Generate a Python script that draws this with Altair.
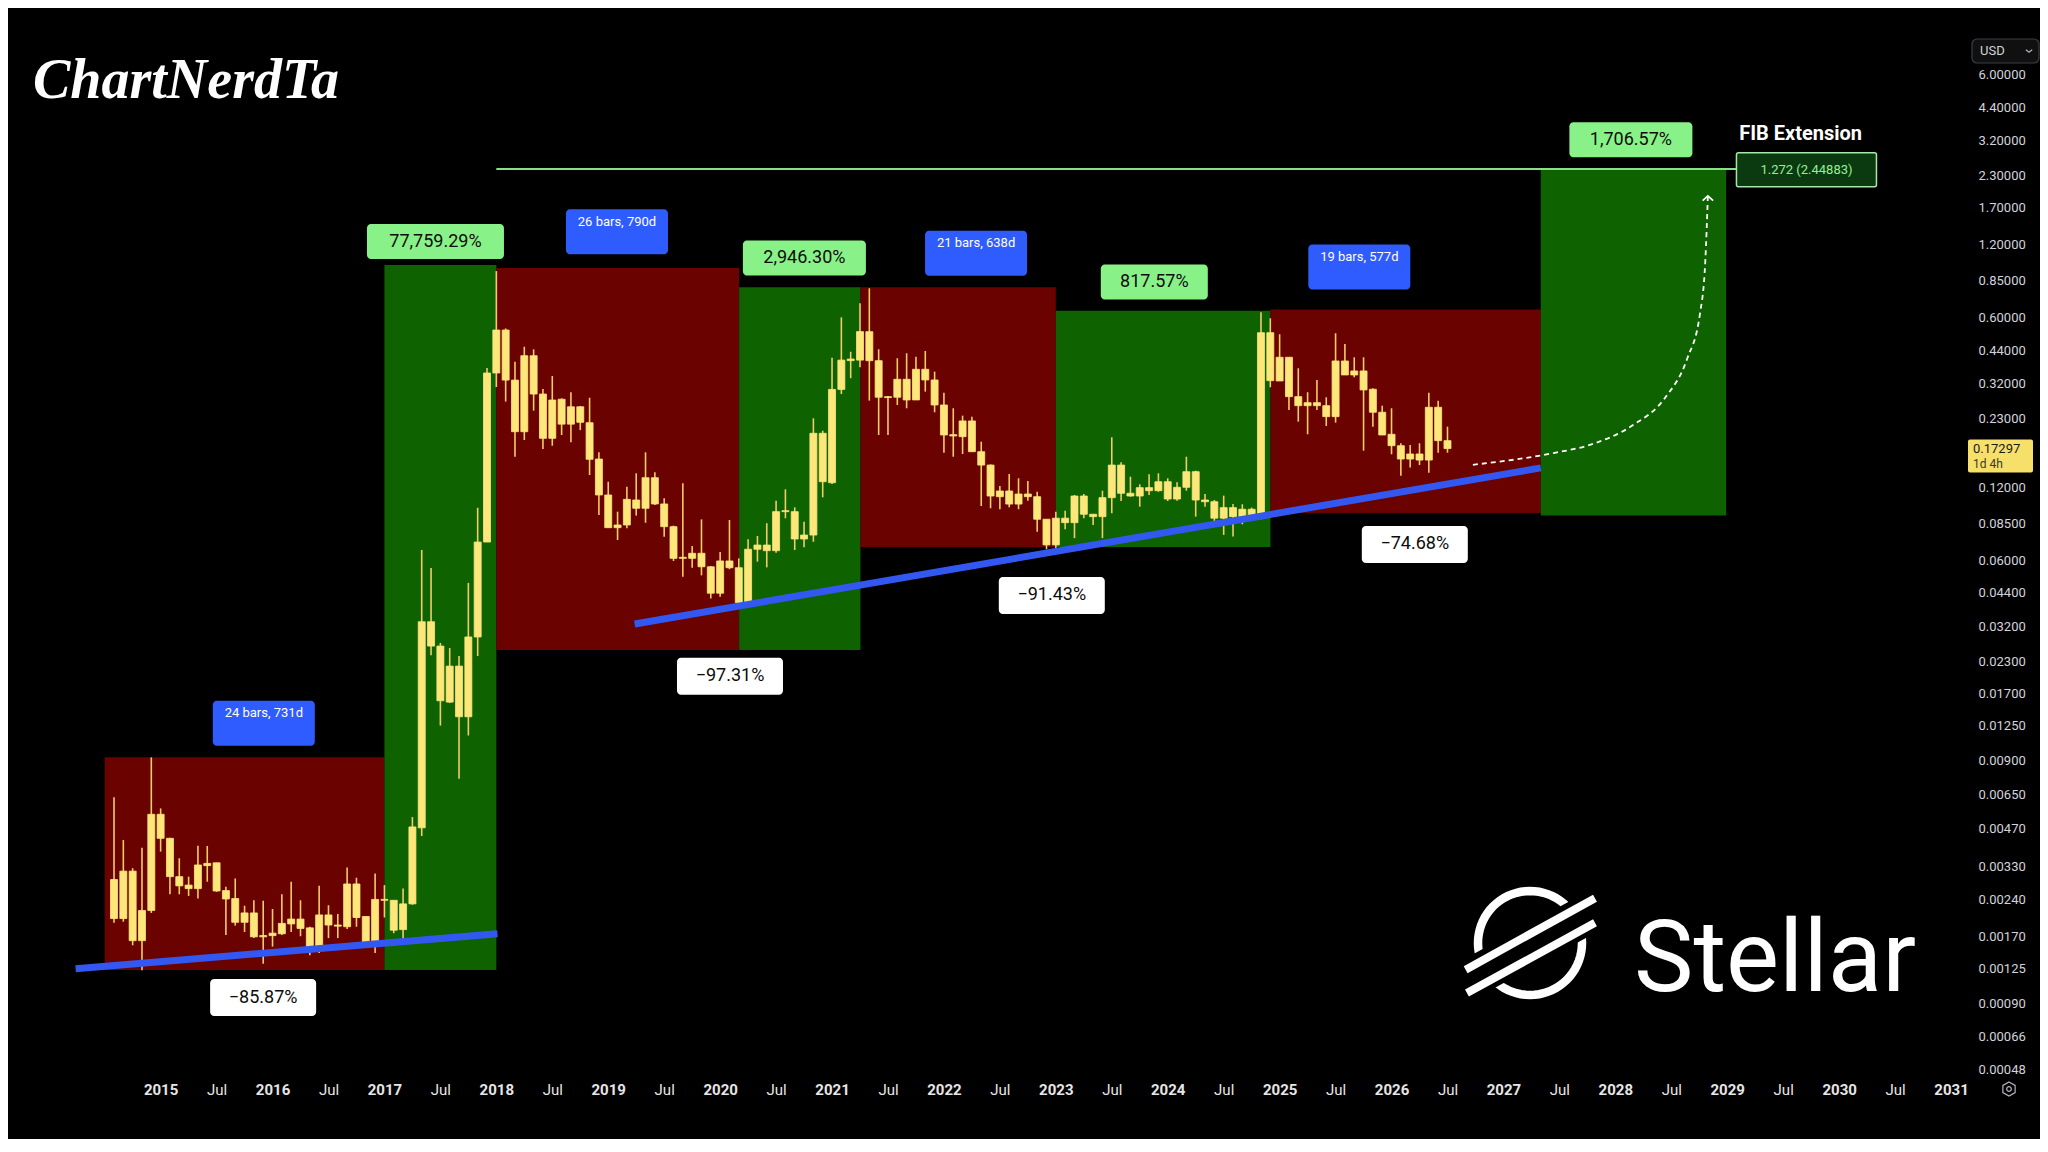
import math
import altair as alt
import pandas as pd

# ---------------- monthly candles, Aug 2014 .. Jul 2026 ----------------
FIRST_YEAR, FIRST_MONTH = 2014, 8
OPEN = [
    0.00291, 0.00201, 0.00315, 0.00163, 0.00217,
    0.00540, 0.00430, 0.00299, 0.00276, 0.00267, 0.00332, 0.00341, 0.00262, 0.00243, 0.00194, 0.00212, 0.00171,
    0.00171, 0.00174, 0.00191, 0.00200, 0.00184, 0.00151, 0.00208, 0.00189, 0.00186, 0.00279, 0.00205, 0.00161,
    0.00241, 0.00239, 0.00181, 0.00231, 0.00475, 0.0335, 0.0266, 0.01564, 0.0220, 0.01361, 0.0290, 0.0713,
    0.354, 0.532, 0.331, 0.2029, 0.417, 0.290, 0.1906, 0.276, 0.218, 0.257, 0.221, 0.1566,
    0.1114, 0.0817, 0.0838, 0.1062, 0.0982, 0.1312, 0.1023, 0.0825, 0.0611, 0.0611, 0.0641, 0.0564,
    0.0439, 0.0596, 0.0559, 0.0401, 0.0666, 0.0693, 0.0657, 0.0951, 0.0951, 0.0734, 0.0762, 0.1999,
    0.1251, 0.303, 0.404, 0.400, 0.5237, 0.3978, 0.2803, 0.2813, 0.3335, 0.2742, 0.3667, 0.3314,
    0.2614, 0.1973, 0.1936, 0.2247, 0.1679, 0.1479, 0.1096, 0.1157, 0.1022, 0.1124, 0.1096, 0.0885,
    0.0694, 0.0894, 0.0857, 0.1103, 0.0928, 0.0907, 0.1086, 0.1479, 0.1132, 0.1103, 0.1194, 0.1160,
    0.1263, 0.1072, 0.1198, 0.1389, 0.1062, 0.1045, 0.0894, 0.0988, 0.0907, 0.0973, 0.0907, 0.5187,
    0.3282, 0.4109, 0.2829, 0.2597, 0.2672, 0.2597, 0.2341, 0.3967, 0.3474, 0.3609, 0.3035, 0.2440,
    0.1980, 0.1777, 0.1566, 0.1643, 0.1551, 0.2558, 0.1864,
]
HIGH = [
    0.00634, 0.00423, 0.00324, 0.00393, 0.00926,
    0.00571, 0.00432, 0.00356, 0.00299, 0.00401, 0.00400, 0.00341, 0.00272, 0.00294, 0.00227, 0.00239, 0.00238,
    0.00220, 0.00253, 0.00285, 0.00239, 0.00186, 0.00274, 0.00228, 0.00210, 0.00326, 0.00296, 0.00205, 0.00308,
    0.00276, 0.00239, 0.00267, 0.00526, 0.0661, 0.0557, 0.0274, 0.0261, 0.0242, 0.0484, 0.0987, 0.371,
    0.93, 0.54, 0.394, 0.454, 0.443, 0.304, 0.344, 0.2785, 0.295, 0.259, 0.280, 0.1669,
    0.1263, 0.0951, 0.1205, 0.1368, 0.1669, 0.1381, 0.1080, 0.0833, 0.1244, 0.0687, 0.0884, 0.0568,
    0.0649, 0.0879, 0.0611, 0.0732, 0.0755, 0.0852, 0.1055, 0.1175, 0.0991, 0.0865, 0.2304, 0.2048,
    0.409, 0.600, 0.433, 0.685, 0.790, 0.4433, 0.2848, 0.4071, 0.4268, 0.4133, 0.4362, 0.3585,
    0.2939, 0.2534, 0.2363, 0.2341, 0.1846, 0.1489, 0.1213, 0.1359, 0.1305, 0.1272, 0.1149, 0.0885,
    0.0951, 0.0960, 0.1114, 0.1124, 0.0928, 0.1160, 0.1925, 0.1518, 0.1325, 0.1233, 0.1355, 0.1368,
    0.1305, 0.1256, 0.1601, 0.1402, 0.1124, 0.1062, 0.1107, 0.1022, 0.1020, 0.0988, 0.6295, 0.5946,
    0.5110, 0.4109, 0.3702, 0.2950, 0.3314, 0.2813, 0.5159, 0.4661, 0.4109, 0.4109, 0.3063, 0.2597,
    0.2534, 0.1818, 0.1789, 0.1818, 0.2939, 0.2724, 0.2129,
]
LOW = [
    0.00193, 0.00195, 0.00156, 0.00123, 0.00212,
    0.00379, 0.00253, 0.00253, 0.00249, 0.00243, 0.00285, 0.00259, 0.00172, 0.00188, 0.00177, 0.00167, 0.00131,
    0.00154, 0.00172, 0.00177, 0.00170, 0.00142, 0.00145, 0.00167, 0.00167, 0.00182, 0.00186, 0.00159, 0.00145,
    0.00203, 0.00175, 0.00161, 0.00229, 0.00440, 0.0244, 0.01252, 0.0155, 0.00756, 0.0114, 0.0242, 0.0713,
    0.310, 0.270, 0.1601, 0.1876, 0.2476, 0.1722, 0.1777, 0.1967, 0.1835, 0.206, 0.1346, 0.0922,
    0.0817, 0.0727, 0.0812, 0.0916, 0.0856, 0.1013, 0.0750, 0.0596, 0.0513, 0.0559, 0.0520, 0.0418,
    0.0425, 0.0551, 0.0393, 0.0389, 0.0592, 0.0561, 0.0644, 0.0893, 0.0661, 0.0678, 0.0715, 0.1090,
    0.1236, 0.290, 0.337, 0.374, 0.2724, 0.1967, 0.1967, 0.2614, 0.2534, 0.2742, 0.2967, 0.2440,
    0.1663, 0.1601, 0.1643, 0.1679, 0.1003, 0.0982, 0.0973, 0.0991, 0.0973, 0.1055, 0.0787, 0.0666,
    0.0666, 0.0805, 0.0740, 0.0894, 0.0839, 0.0740, 0.0937, 0.1052, 0.1096, 0.0997, 0.1114, 0.1149,
    0.1052, 0.1055, 0.1160, 0.0907, 0.0997, 0.0847, 0.0763, 0.0751, 0.0844, 0.0874, 0.0885, 0.3092,
    0.3282, 0.2494, 0.2232, 0.1980, 0.2494, 0.2143, 0.2211, 0.3474, 0.3399, 0.1695, 0.2129, 0.1967,
    0.1638, 0.1338, 0.1447, 0.1479, 0.1376, 0.1663, 0.1663,
]
CLOSE = [
    0.00201, 0.00315, 0.00163, 0.00217, 0.00540,
    0.00430, 0.00299, 0.00274, 0.00267, 0.00334, 0.00339, 0.00261, 0.00242, 0.00194, 0.00212, 0.00169, 0.00169,
    0.00175, 0.00192, 0.00200, 0.00183, 0.00151, 0.00208, 0.00189, 0.00187, 0.00279, 0.00203, 0.00160, 0.00241,
    0.00239, 0.00180, 0.00231, 0.00479, 0.0335, 0.0266, 0.01584, 0.0220, 0.01361, 0.0290, 0.0713, 0.354,
    0.532, 0.331, 0.2029, 0.417, 0.290, 0.1906, 0.274, 0.218, 0.257, 0.2218, 0.1562, 0.1114,
    0.0817, 0.0838, 0.1069, 0.0982, 0.1312, 0.1023, 0.0825, 0.0611, 0.0617, 0.0641, 0.0564, 0.0439,
    0.0596, 0.0559, 0.0401, 0.0666, 0.0693, 0.0657, 0.0951, 0.0960, 0.0734, 0.0762, 0.1999, 0.1263,
    0.303, 0.400, 0.398, 0.524, 0.3978, 0.2813, 0.2829, 0.3335, 0.2742, 0.3667, 0.3314, 0.2614,
    0.1967, 0.1949, 0.2247, 0.1679, 0.1479, 0.1103, 0.1157, 0.1022, 0.1124, 0.1096, 0.0885, 0.0694,
    0.0894, 0.0857, 0.1103, 0.0928, 0.0907, 0.1086, 0.1479, 0.1132, 0.1103, 0.1194, 0.1160, 0.1263,
    0.1072, 0.1198, 0.1389, 0.1062, 0.1045, 0.0894, 0.0988, 0.0907, 0.0973, 0.0907, 0.5187, 0.3292,
    0.4109, 0.2829, 0.2597, 0.2672, 0.2597, 0.2341, 0.3967, 0.3474, 0.3609, 0.3015, 0.2440, 0.1967,
    0.1777, 0.1566, 0.1643, 0.1551, 0.2558, 0.1864, 0.17297,
]

# ---------------- range boxes (decimal year, price) ----------------
BOX_START = [2014.50, 2017.00, 2018.00, 2020.17, 2021.254, 2023.00, 2024.918, 2027.334]
BOX_END = [2017.00, 2018.00, 2020.17, 2021.254, 2023.00, 2024.918, 2027.334, 2028.99]
BOX_LOW = [0.001234, 0.001234, 0.0256, 0.0256, 0.068, 0.068, 0.0938, 0.0917]
BOX_HIGH = [0.00927, 0.985, 0.958, 0.798, 0.798, 0.639, 0.647, 2.43]
BOX_KIND = ["down", "up", "down", "up", "down", "up", "down", "up"]

# ---------------- trend lines ----------------
TREND_ID = ["a", "a", "b", "b"]
TREND_X = [2014.24, 2018.01, 2019.236, 2027.334]
TREND_Y = [0.00125, 0.00174, 0.0328, 0.144]

# ---------------- projected path (dashed) ----------------
PROJ_X = [2026.727, 2027.100, 2027.450, 2027.800, 2028.151, 2028.442, 2028.641, 2028.757, 2028.804, 2028.827]
PROJ_Y = [0.1483, 0.1558, 0.1658, 0.1808, 0.2150, 0.2789, 0.4041, 0.6229, 1.022, 1.898]

# ---------------- fib extension ----------------
FIB_LEVEL = 2.44883
FIB_START, FIB_END = 2018.0, 2029.08
FIB_TITLE = "FIB Extension"
FIB_LABEL = "1.272 (2.44883)"
FIB_TITLE_POS = (2029.107, 3.395)
FIB_LABEL_POS = (2029.708, 2.431)

# ---------------- labels ----------------
GAIN_TEXT = ["77,759.29%", "2,946.30%", "817.57%", "1,706.57%"]
GAIN_X = [2017.456, 2020.753, 2023.880, 2028.139]
GAIN_Y = [1.231, 1.054, 0.839, 3.232]
GAIN_W = [137, 123, 107, 123]

BARS_TEXT = ["24 bars, 731d", "26 bars, 790d", "21 bars, 638d", "19 bars, 577d"]
BARS_X = [2015.922, 2019.078, 2022.287, 2025.712]
BARS_Y = [0.0128, 1.351, 1.101, 0.967]

DROP_TEXT = ["\u221285.87%", "\u221297.31%", "\u221291.43%", "\u221274.68%"]
DROP_X = [2015.916, 2020.088, 2022.964, 2026.208]
DROP_Y = [0.000951, 0.01997, 0.0430, 0.0697]

LAST_PRICE = 0.17297
LAST_PRICE_TEXT = "0.17297"
COUNTDOWN_TEXT = "1d 4h"

Y_TICKS = [6.0, 4.4, 3.2, 2.3, 1.7, 1.2, 0.85, 0.6, 0.44, 0.32, 0.23, 0.12, 0.085, 0.06, 0.044,
           0.032, 0.023, 0.017, 0.0125, 0.009, 0.0065, 0.0047, 0.0033, 0.0024, 0.0017, 0.00125,
           0.0009, 0.00066, 0.00048]
X_TICKS = [2015 + 0.5 * k for k in range(33)]

# ---------------- styling ----------------
W, H = 1954, 1068
RED, GREEN = "#6a0200", "#0e6300"
BODY, WICK = "#fde77a", "#f2cc66"
BLUE = "#3358f2"
FIB_GREEN = "#86e086"
GAIN_FILL = "#88f288"
BARS_FILL = "#2f5cff"
FONT = "Roboto"

XS = alt.Scale(domain=[2013.636, 2031.098], nice=False, zero=False, padding=0)
YS = alt.Scale(type="log", domain=[0.0004519, 11.26], nice=False, padding=0)

x_axis = alt.Axis(
    values=X_TICKS, title=None, grid=False, domain=False, ticks=False,
    labelExpr="datum.value % 1 === 0 ? format(datum.value, 'd') : 'Jul'",
    labelFontWeight={"condition": {"test": "datum.value % 1 === 0", "value": "bold"}, "value": "normal"},
    labelColor="#e6e6e6", labelFontSize=15, labelFont=FONT, labelPadding=6,
    labelOverlap=False, labelFlush=False,
)
y_axis = alt.Axis(
    orient="right", values=Y_TICKS, format=".5f", title=None, grid=False, domain=False,
    ticks=False, labelColor="#d1d4dc", labelFontSize=13, labelFont=FONT, labelPadding=16,
    labelOverlap=False, labelFlush=False,
)

# ---------------- data frames ----------------
years = []
yy, mm = FIRST_YEAR, FIRST_MONTH
for _ in OPEN:
    years.append(yy + (mm - 1) / 12.0)
    mm += 1
    if mm > 12:
        mm, yy = 1, yy + 1
candles = pd.DataFrame({"x": years, "o": OPEN, "h": HIGH, "l": LOW, "c": CLOSE})
boxes = pd.DataFrame({"x0": BOX_START, "x1": BOX_END, "y0": BOX_LOW, "y1": BOX_HIGH, "kind": BOX_KIND})
trend = pd.DataFrame({"id": TREND_ID, "x": TREND_X, "y": TREND_Y})
proj = pd.DataFrame({"i": list(range(len(PROJ_X))), "x": PROJ_X, "y": PROJ_Y})
ONE = pd.DataFrame({"a": [0]})


def X(f):
    return alt.X(f, scale=XS, axis=x_axis)


def Y(f):
    return alt.Y(f, scale=YS, axis=y_axis)


layers = []

layers.append(
    alt.Chart(boxes).mark_rect().encode(
        x=X("x0:Q"), x2="x1", y=Y("y0:Q"), y2="y1",
        color=alt.Color("kind:N", scale=alt.Scale(domain=["down", "up"], range=[RED, GREEN]), legend=None),
    )
)

fib_df = pd.DataFrame({"x0": [FIB_START], "x1": [FIB_END], "y": [FIB_LEVEL]})
layers.append(alt.Chart(fib_df).mark_rule(color=FIB_GREEN, strokeWidth=2).encode(
    x=X("x0:Q"), x2="x1", y=Y("y:Q")))

layers.append(alt.Chart(candles).mark_rule(color=WICK, strokeWidth=1.6).encode(
    x=X("x:Q"), y=Y("l:Q"), y2="h"))
layers.append(alt.Chart(candles).mark_bar(size=7, color=BODY, stroke=BODY, strokeWidth=0.8).encode(
    x=X("x:Q"), y=Y("o:Q"), y2="c"))

layers.append(alt.Chart(trend).mark_line(color=BLUE, strokeWidth=7, strokeCap="butt").encode(
    x=X("x:Q"), y=Y("y:Q"), detail="id:N"))

layers.append(alt.Chart(proj).mark_line(color="white", strokeWidth=1.8, strokeDash=[5, 4],
                                        interpolate="monotone").encode(
    x=X("x:Q"), y=Y("y:Q"), order="i:Q"))
tip = pd.DataFrame({"x": [PROJ_X[-1]], "y": [PROJ_Y[-1]]})
layers.append(alt.Chart(tip).mark_point(shape="M-1,0.9L0,0L1,0.9", filled=False, color="white",
                                        strokeWidth=1.8, size=110, opacity=1).encode(
    x=X("x:Q"), y=Y("y:Q")))


def label_box(df, w, h, fill, radius=4, stroke=None):
    kw = dict(fill=fill, cornerRadius=radius, xOffset=-w / 2, x2Offset=w / 2,
              yOffset=-h / 2, y2Offset=h / 2)
    if stroke:
        kw.update(stroke=stroke, strokeWidth=1.5)
    return alt.Chart(df).mark_rect(**kw).encode(
        x=X("x:Q"), x2=alt.X2("x"), y=Y("y:Q"), y2=alt.Y2("y"))


def label_text(df, color, size, dy=0, weight="normal", align="center"):
    return alt.Chart(df).mark_text(color=color, fontSize=size, font=FONT, dy=dy,
                                   fontWeight=weight, align=align, baseline="middle").encode(
        x=X("x:Q"), y=Y("y:Q"), text="t:N")


for t, gx, gy, gw in zip(GAIN_TEXT, GAIN_X, GAIN_Y, GAIN_W):
    d = pd.DataFrame({"x": [gx], "y": [gy], "t": [t]})
    layers.append(label_box(d, gw, 35, GAIN_FILL))
    layers.append(label_text(d, "#0c0c0c", 18))

bars_df = pd.DataFrame({"x": BARS_X, "y": BARS_Y, "t": BARS_TEXT})
layers.append(label_box(bars_df, 102, 45, BARS_FILL))
layers.append(label_text(bars_df, "white", 13, dy=-10))

drop_df = pd.DataFrame({"x": DROP_X, "y": DROP_Y, "t": DROP_TEXT})
layers.append(label_box(drop_df, 106, 37, "#ffffff"))
layers.append(label_text(drop_df, "#0c0c0c", 18))

fl = pd.DataFrame({"x": [FIB_LABEL_POS[0]], "y": [FIB_LABEL_POS[1]], "t": [FIB_LABEL]})
layers.append(label_box(fl, 140, 34, "#0b3a10", radius=2, stroke="#a6e8a6"))
layers.append(label_text(fl, "#93f093", 13))
ft = pd.DataFrame({"x": [FIB_TITLE_POS[0]], "y": [FIB_TITLE_POS[1]], "t": [FIB_TITLE]})
layers.append(label_text(ft, "white", 20, weight="bold", align="left"))

# last price tag on the price axis
lp = pd.DataFrame({"y": [LAST_PRICE]})
layers.append(alt.Chart(lp).mark_rect(fill="#f6e06a", cornerRadius=2, yOffset=-9, y2Offset=24).encode(
    x=alt.value(1960), x2=alt.value(2025), y=Y("y:Q"), y2=alt.Y2("y")))
layers.append(alt.Chart(lp).mark_text(text=LAST_PRICE_TEXT, color="#1a1a1a", fontSize=13, font=FONT,
                                      align="left", baseline="middle").encode(
    x=alt.value(1965), y=Y("y:Q")))
layers.append(alt.Chart(lp).mark_text(text=COUNTDOWN_TEXT, color="#3a3a2a", fontSize=12, font=FONT,
                                      align="left", baseline="middle", dy=15).encode(
    x=alt.value(1965), y=Y("y:Q")))

# currency selector
layers.append(alt.Chart(ONE).mark_rect(fill="#101010", stroke="#3b3e45", strokeWidth=1.2,
                                       cornerRadius=5).encode(
    x=alt.value(1964), x2=alt.value(2031), y=alt.value(31), y2=alt.value(55)))
layers.append(alt.Chart(ONE).mark_text(text="USD", color="#d1d4dc", fontSize=13, font=FONT,
                                       align="left", baseline="middle").encode(
    x=alt.value(1972), y=alt.value(43)))
layers.append(alt.Chart(ONE).mark_point(shape="M-1,-0.4L0,0.4L1,-0.4", filled=False, color="#b2b5be",
                                        strokeWidth=1.2, size=40, opacity=1).encode(
    x=alt.value(2021), y=alt.value(43)))

# settings icon
layers.append(alt.Chart(ONE).mark_point(
    shape="M0,-1L0.866,-0.5L0.866,0.5L0,1L-0.866,0.5L-0.866,-0.5Z", filled=False,
    color="#b2b5be", strokeWidth=1.2, size=200, opacity=1).encode(x=alt.value(2001), y=alt.value(1081)))
layers.append(alt.Chart(ONE).mark_point(shape="circle", filled=False, color="#b2b5be", strokeWidth=1.2,
                                        size=22, opacity=1).encode(x=alt.value(2001), y=alt.value(1081)))

# watermark top-left
layers.append(alt.Chart(ONE).mark_text(text="ChartNerdTa", color="white", fontSize=56,
                                       font="Liberation Serif", fontStyle="italic", fontWeight="bold",
                                       align="left", baseline="alphabetic").encode(
    x=alt.value(25), y=alt.value(90)))

# Stellar logo
ring = "M" + " L".join(
    f"{0.8 * math.cos(2 * math.pi * k / 72):.4f},{0.8 * math.sin(2 * math.pi * k / 72):.4f}"
    for k in range(73)) + " Z"
LOGO_X, LOGO_Y, LOGO_SIZE = 1522, 935, 16900
layers.append(alt.Chart(ONE).mark_point(shape=ring, filled=False, color="white", strokeWidth=8.5,
                                        size=LOGO_SIZE, opacity=1).encode(
    x=alt.value(LOGO_X), y=alt.value(LOGO_Y)))
layers.append(alt.Chart(ONE).mark_point(shape="M-1.1,0.645L1.1,-0.56", filled=False, color="black",
                                        strokeWidth=40, strokeCap="butt", size=LOGO_SIZE, opacity=1).encode(
    x=alt.value(LOGO_X), y=alt.value(LOGO_Y)))
layers.append(alt.Chart(ONE).mark_point(shape="M-0.99,0.41L1.0,-0.69M-0.97,0.77L1.0,-0.31", filled=False,
                                        color="white", strokeWidth=8, strokeCap="butt",
                                        size=LOGO_SIZE, opacity=1).encode(
    x=alt.value(LOGO_X), y=alt.value(LOGO_Y)))
layers.append(alt.Chart(ONE).mark_text(text="Stellar", color="white", fontSize=100, font=FONT,
                                       align="left", baseline="alphabetic").encode(
    x=alt.value(1626), y=alt.value(983)))

chart = alt.layer(*layers).properties(
    width=W, height=H,
    padding={"left": 0, "top": 0, "right": 0, "bottom": 40},
).configure(background="#000000").configure_view(stroke=None).configure_scale(continuousPadding=0)

chart.save("out.html", embed_options={"renderer": "svg", "actions": False})
